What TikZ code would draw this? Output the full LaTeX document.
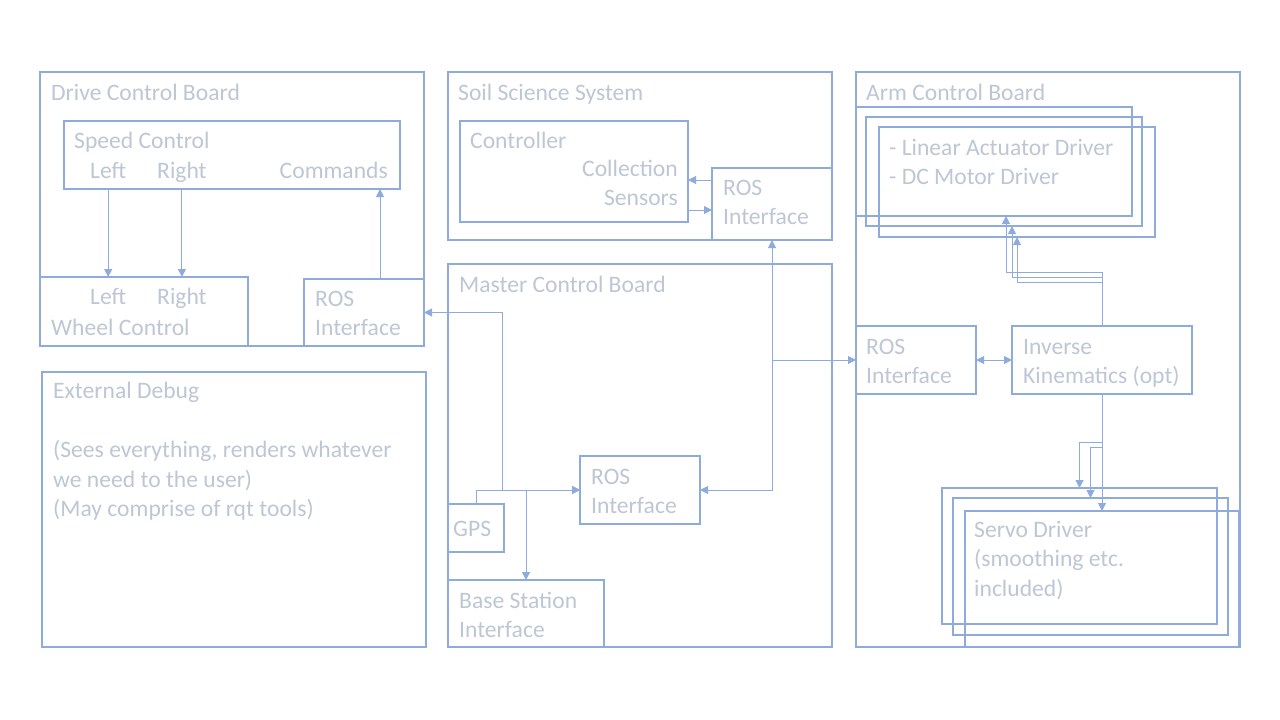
\documentclass[tikz,border=0pt]{standalone}
\usepackage{fontspec}
\setmainfont{Carlito}
\usetikzlibrary{arrows.meta}
\definecolor{linec}{RGB}{143,170,220}
\definecolor{txtc}{RGB}{190,197,212}
\tikzset{
  board/.style={draw=linec, line width=2.4pt, anchor=north west, inner sep=0pt, outer sep=0pt},
  box/.style={draw=linec, line width=1.3pt, anchor=north west, inner sep=0pt, outer sep=0pt},
  lbl/.style={anchor=base west, inner sep=0pt, text=txtc, align=left},
  lblr/.style={lbl, anchor=base east, align=right},
  conn/.style={draw=linec, line width=1pt},
  arr/.style={conn, -{Triangle[length=8pt,width=8pt]}},
  arrs/.style={conn, {Triangle[length=8pt,width=8pt]}-{Triangle[length=8pt,width=8pt]}}
}
\begin{document}
\begin{tikzpicture}[x=1pt, y=-1pt, font=\fontsize{23.6}{29.5}\selectfont]
  \useasboundingbox (0,0) rectangle (1280,720);
  % boards
  \node[board, minimum width=384, minimum height=274] (drive) at (40,72) {};
  \node[board, minimum width=384, minimum height=168] (soil) at (448,72) {};
  \node[board, minimum width=384, minimum height=383] (master) at (448,264) {};
  \node[board, minimum width=384, minimum height=575] (arm) at (856,72) {};
  \node[board, minimum width=384, minimum height=275] (debug) at (42,372) {};
  % drive control
  \node[box, minimum width=336, minimum height=68] (speed) at (64,121) {};
  \node[box, minimum width=208, minimum height=69] (wheel) at (40,277) {};
  \node[box, minimum width=120, minimum height=67] (dros) at (304,279) {};
  % soil science
  \node[box, minimum width=228, minimum height=101] (ctrl) at (460,121) {};
  \node[box, minimum width=120, minimum height=72] (sros) at (712,168) {};
  % master control
  \node[box, minimum width=120, minimum height=68] (mros) at (580,456) {};
  \node[box, minimum width=56, minimum height=48] (gps) at (448,504) {};
  \node[box, minimum width=156, minimum height=67] (bsi) at (448,580) {};
  % arm control
  \node[box, minimum width=276, minimum height=109] (drv1) at (856,107) {};
  \node[box, minimum width=276, minimum height=109] (drv2) at (866,117) {};
  \node[box, minimum width=276, minimum height=110] (drv3) at (879,127) {};
  \node[box, minimum width=120, minimum height=68] (aros) at (856,326) {};
  \node[box, minimum width=180, minimum height=68] (ik) at (1012,326) {};
  \node[box, minimum width=275, minimum height=136] (sv1) at (942,488) {};
  \node[box, minimum width=275, minimum height=137] (sv2) at (953,498) {};
  \node[box, minimum width=274, minimum height=136] (sv3) at (965,511) {};

  % labels (multi-line ones sit on their last baseline)
  \node[lbl] (tdrive) at (51,100) {Drive Control Board};
  \node[lbl] (tspeed) at (74,148) {Speed Control};
  \node[lbl] (sleft) at (90,178) {Left};
  \node[lbl] (sright) at (157,178) {Right};
  \node[lblr] (scmd) at (388,178) {Commands};
  \node[lbl] (wleft) at (90,304) {Left};
  \node[lbl] (wright) at (157,304) {Right};
  \node[lbl] (twheel) at (51,335) {Wheel Control};
  \node[lbl] (tdros) at (315,335.5) {ROS\\Interface};
  \node[lbl] (tsoil) at (458,100) {Soil Science System};
  \node[lbl] (tctrl) at (470,148) {Controller};
  \node[lblr] (tcoll) at (678,205.5) {Collection\\Sensors};
  \node[lbl] (tsros) at (723,224.5) {ROS\\Interface};
  \node[lbl] (tmaster) at (459,292) {Master Control Board};
  \node[lbl] (tmros) at (591,513.5) {ROS\\Interface};
  \node[lbl] (tgps) at (453,536) {GPS};
  \node[lbl] (tbsi) at (459,637.5) {Base Station\\Interface};
  \node[lbl] (tarm) at (866,100) {Arm Control Board};
  \node[lbl] (tdrv) at (889,184.5) {- Linear Actuator Driver\\- DC Motor Driver};
  \node[lbl] (taros) at (866,383.5) {ROS\\Interface};
  \node[lbl] (tik) at (1023,383.5) {Inverse\\Kinematics (opt)};
  \node[lbl] (tsv) at (974,596) {Servo Driver\\(smoothing etc.\\included)};
  \node[lbl] (tdebug) at (53,516.5) {External Debug\\[29.5pt](Sees everything, renders whatever\\we need to the user)\\(May comprise of rqt tools)};

  % drive connectors
  \draw[arr] (speed.south -| sleft) -- (wheel.north -| sleft);
  \draw[arr] (speed.south -| sright) -- (wheel.north -| sright);
  \draw[arr] ([xshift=16pt]dros.north) -- ([xshift=16pt]dros.north |- speed.south);
  % soil connectors
  \draw[arr] ([yshift=24pt]sros.west) -- ([yshift=24pt]sros.west -| ctrl.east);
  \draw[arr] ([yshift=-6pt]sros.west -| ctrl.east) -- ([yshift=-6pt]sros.west);
  % master connectors
  \draw[arrs] (dros.east) -| ([xshift=-78pt]mros.west) -- (mros.west);
  \draw[arr] (gps.north) |- (mros.west);
  \draw[arr] ([xshift=-54pt]mros.west) -- ([xshift=-54pt]mros.west |- bsi.north);
  \draw[arrs] (mros.east) -| (sros.south);
  \draw[arr] (sros.south |- aros.west) -- (aros.west);
  % arm connectors
  \draw[arrs] (aros.east) -- (ik.west);
  \foreach \d/\dx/\dy in {drv1/12/56, drv2/8/51, drv3/0/45}
    \draw[arr] (ik.north) |- ([xshift=\dx pt, yshift=-\dy pt]\d.south) -- ([xshift=\dx pt]\d.south);
  \foreach \s/\dy in {sv1/46, sv2/51, sv3/60}
    \draw[arr] (ik.south) |- ([yshift=\dy pt]\s.north -| \s.north) -- (\s.north -| \s.north);
\end{tikzpicture}
\end{document}
